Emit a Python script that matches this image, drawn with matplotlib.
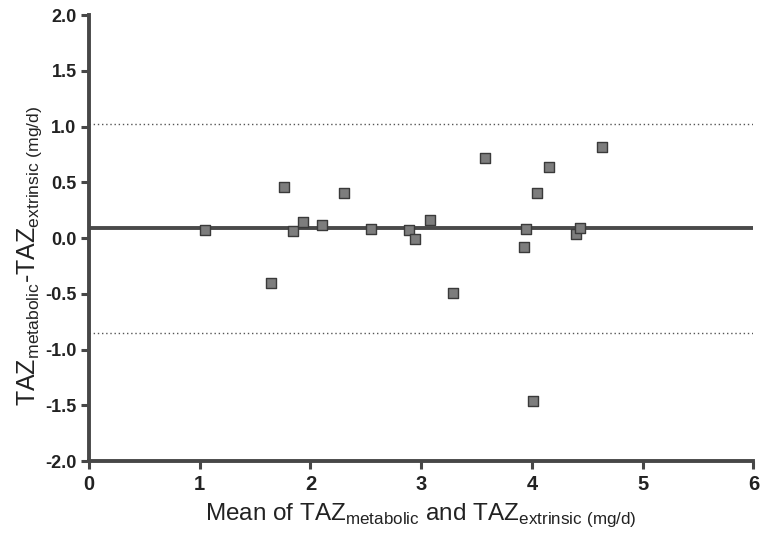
#!/usr/bin/env python3

import matplotlib
matplotlib.use('Agg')
import matplotlib.pyplot as plt

plt.rcParams['font.family'] = ['Liberation Sans', 'DejaVu Sans']
plt.rcParams['mathtext.fontset'] = 'custom'
plt.rcParams['mathtext.rm'] = 'Liberation Sans'

# Bland-Altman data
mean_vals = [1.05, 1.64, 1.76, 1.84, 1.93, 2.10, 2.30, 2.55, 2.89, 2.94, 3.08,
             3.29, 3.58, 3.93, 3.95, 4.05, 4.15, 4.01, 4.40, 4.43, 4.63]
diff_vals = [0.07, -0.40, 0.46, 0.06, 0.14, 0.12, 0.40, 0.08, 0.07, -0.01, 0.16,
             -0.49, 0.72, -0.08, 0.08, 0.40, 0.64, -1.46, 0.04, 0.09, 0.82]
bias = 0.09
upper_loa = 1.02
lower_loa = -0.85

x_ticks = [0, 1, 2, 3, 4, 5, 6]
y_ticks = [-2.0, -1.5, -1.0, -0.5, 0.0, 0.5, 1.0, 1.5, 2.0]

fig = plt.figure(figsize=(7.61, 5.38), dpi=100)
ax = fig.add_axes([0.117, 0.143, 0.873, 0.829])

axis_col = '#474747'
ax.axhline(bias, color='#4a4a4a', lw=2.8, zorder=2)
ax.axhline(upper_loa, color='#555555', lw=1.0, ls=(0, (1, 2)), zorder=1)
ax.axhline(lower_loa, color='#555555', lw=1.0, ls=(0, (1, 2)), zorder=1)

ax.scatter(mean_vals, diff_vals, marker='s', s=58, facecolor='#7d7d7d',
           edgecolor='#3a3a3a', linewidth=1.0, zorder=3)

ax.set_xlim(0, 6)
ax.set_ylim(-2.0, 2.0)
ax.set_xticks(x_ticks)
ax.set_yticks(y_ticks)
ax.set_xticklabels([str(t) for t in x_ticks])
ax.set_yticklabels([f'{t:.1f}' for t in y_ticks])

for side in ['top', 'right']:
    ax.spines[side].set_visible(False)
for side in ['left', 'bottom']:
    ax.spines[side].set_color(axis_col)
    ax.spines[side].set_linewidth(2.8)

ax.tick_params(direction='out', length=6, width=2.2, color=axis_col,
               labelcolor='#222222')
ax.tick_params(axis='x', labelsize=14.5, pad=4)
ax.tick_params(axis='y', labelsize=13, pad=3)
for lab in ax.get_xticklabels() + ax.get_yticklabels():
    lab.set_fontweight('bold')

ax.set_xlabel(r'Mean of TAZ$_{\mathregular{metabolic}}$ and '
              r'TAZ$_{\mathregular{extrinsic\ (mg/d)}}$',
              fontsize=17.5, color='#222222')
ax.set_ylabel(r'TAZ$_{\mathregular{metabolic}}$-'
              r'TAZ$_{\mathregular{extrinsic\ (mg/d)}}$',
              fontsize=18, color='#222222')
ax.xaxis.set_label_coords(0.5, -0.09)
ax.yaxis.set_label_coords(-0.068, 0.46)

fig.savefig('out.png', dpi=100, facecolor='white')
